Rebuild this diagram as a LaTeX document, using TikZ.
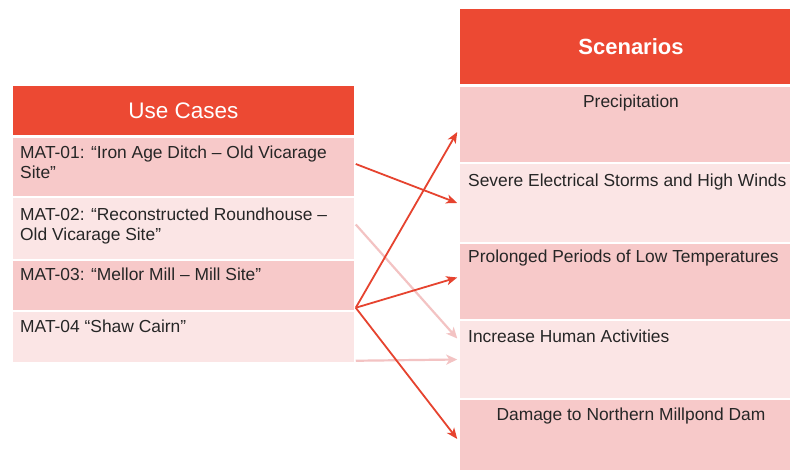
\documentclass[tikz,border=0pt]{standalone}
\usepackage{fontspec}
\setmainfont{Liberation Sans}
\usetikzlibrary{arrows.meta}
\definecolor{hdr}{HTML}{EC4933}
\definecolor{rowA}{HTML}{F7C9C9}
\definecolor{rowB}{HTML}{FBE5E5}
\definecolor{arr}{HTML}{E6432F}
\definecolor{arrpale}{HTML}{F3C3C3}
\begin{document}
\begin{tikzpicture}[x=1pt,y=-1pt,
  cell/.style={draw=white, line width=1.5pt, inner sep=0pt, rectangle},
  hdrcell/.style={cell, fill=hdr, text=white},
  cellA/.style={cell, fill=rowA},
  cellB/.style={cell, fill=rowB},
  txt/.style={inner sep=0pt, font=\fontsize{17.4}{20}\selectfont, align=left, text=black!85},
  ctxt/.style={inner sep=0pt, font=\fontsize{17.4}{20}\selectfont, text=black!85},
  link/.style={draw=arr, line width=1.8pt, -{Stealth[length=11pt,width=9pt,inset=3pt]}},
  palelink/.style={draw=arrpale, line width=2.2pt, -{Stealth[length=11pt,width=10pt,inset=3pt]}}
]
\useasboundingbox (0,0) rectangle (790,470);
\fill[white] (0,0) rectangle (790,470);

% Use cases table
\node[hdrcell, minimum width=343pt, minimum height=51pt, font=\fontsize{22.5}{24}\selectfont] (uh) at (183.5,110.5) {Use Cases};
\node[cellA, minimum width=343pt, minimum height=60pt] (u1) at (183.5,167) {};
\node[cellB, minimum width=343pt, minimum height=63pt] (u2) at (183.5,228.5) {};
\node[cellA, minimum width=343pt, minimum height=51pt] (u3) at (183.5,285.5) {};
\node[cellB, minimum width=343pt, minimum height=52pt] (u4) at (183.5,337) {};

\node[txt, anchor=north west] (t1) at (20,146) {MAT-01: “Iron Age Ditch – Old Vicarage\\Site”};
\node[txt, anchor=north west] (t2) at (20,208) {MAT-02: “Reconstructed Roundhouse –\\Old Vicarage Site”};
\node[txt, anchor=north west] (t3) at (20,268) {MAT-03: “Mellor Mill – Mill Site”};
\node[txt, anchor=north west] (t4) at (20,320) {MAT-04 “Shaw Cairn”};

% Scenarios table
\node[hdrcell, minimum width=344pt, minimum height=76pt, font=\bfseries\fontsize{22}{24}\selectfont] (sh) at (631,46.5) {Scenarios};
\node[cellA, minimum width=344pt, minimum height=77pt] (s1) at (631,125) {};
\node[cellB, minimum width=344pt, minimum height=80pt] (s2) at (631,203) {};
\node[cellA, minimum width=344pt, minimum height=77pt] (s3) at (631,281.5) {};
\node[cellB, minimum width=344pt, minimum height=79pt] (s4) at (631,359.5) {};
\node[cellA, minimum width=344pt, minimum height=80pt] (s5) at (631,439) {};

\node[ctxt, anchor=base] (p1) at (631,108) {Precipitation};
\node[ctxt, anchor=base west] (p2) at (468,187) {Severe Electrical Storms and High Winds};
\node[ctxt, anchor=base west] (p3) at (468,263) {Prolonged Periods of Low Temperatures};
\node[ctxt, anchor=base west] (p4) at (468,342) {Increase Human Activities};
\node[ctxt, anchor=base] (p5) at (631,420) {Damage to Northern Millpond Dam};

% connector end points
\coordinate (a1) at ([yshift=3pt]u1.east);
\coordinate (a2) at ([yshift=4pt]u2.east);
\coordinate (a3) at ([yshift=4pt]u3.south east);
\coordinate (a4) at ([yshift=3pt]u4.south east);
\coordinate (b1) at ([yshift=-7pt]s1.west);
\coordinate (b2) at (s2.west);
\coordinate (b3) at ([yshift=4pt]s3.west);
\coordinate (b4a) at ([yshift=21pt]s4.west);
\coordinate (b4b) at (s4.west);
\coordinate (b5) at (s5.west);

\draw[palelink] (a2) -- ([xshift=-1pt]b4a);
\draw[palelink] (a4) -- ([xshift=-1pt]b4b);
\draw[link] (a1) -- ([xshift=-1pt]b2);
\draw[link] (a3) -- ([xshift=-1pt]b1);
\draw[link] (a3) -- ([xshift=-1pt]b3);
\draw[link] (a3) -- ([xshift=-1pt]b5);
\end{tikzpicture}
\end{document}
